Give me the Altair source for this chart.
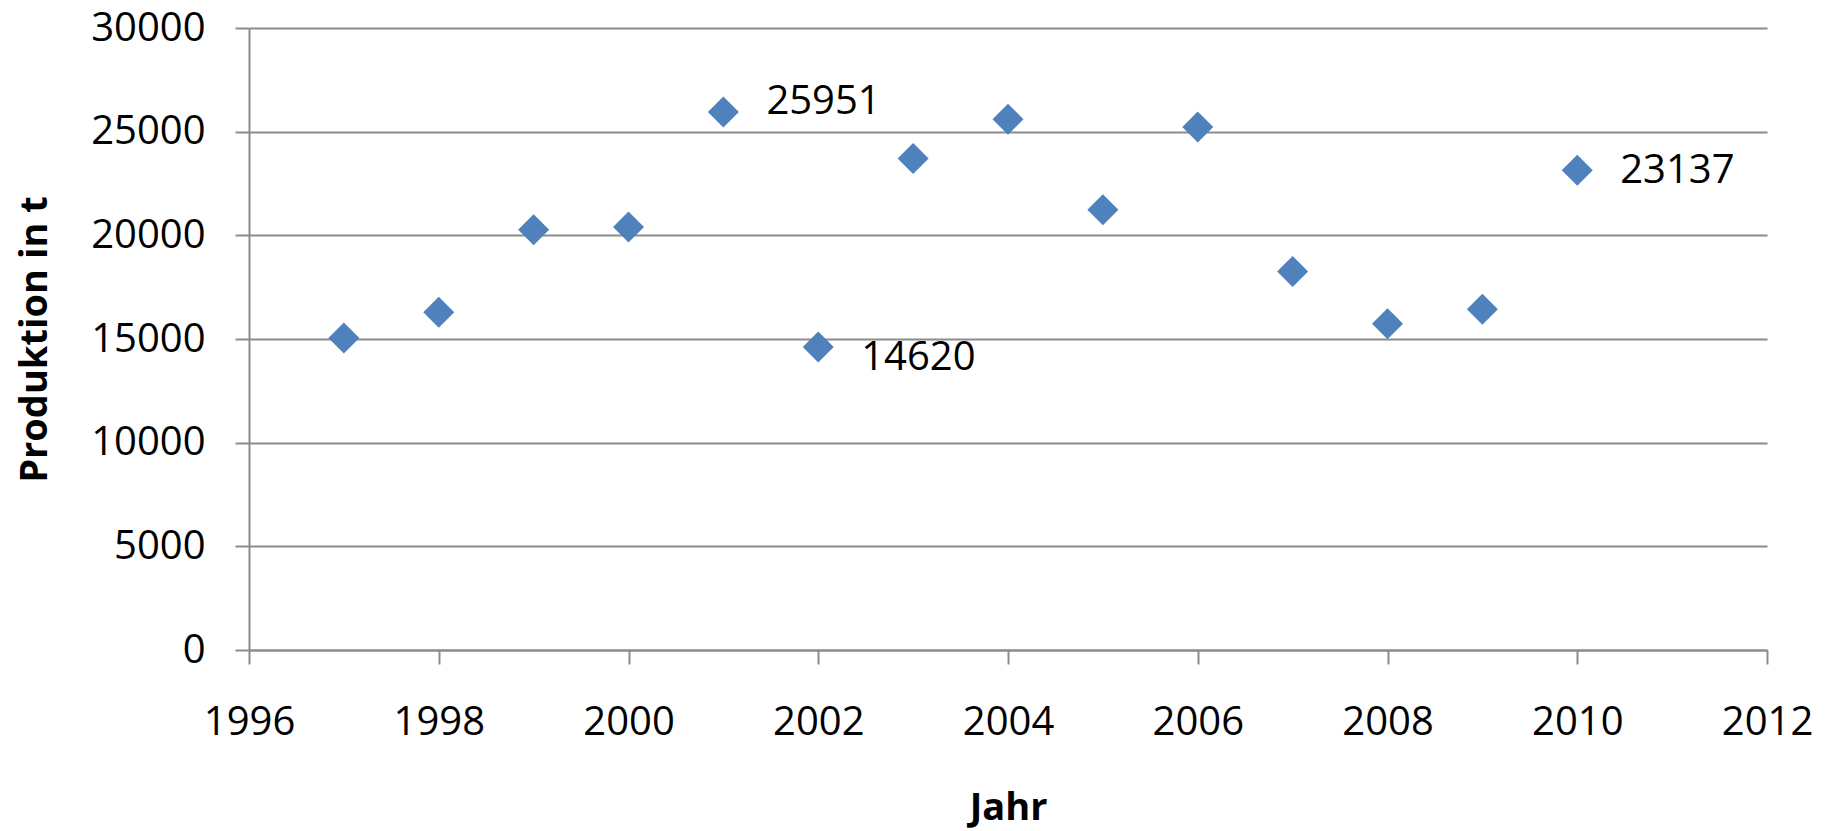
import altair as alt
import pandas as pd

years = [1997, 1998, 1999, 2000, 2001, 2002, 2003, 2004, 2005, 2006, 2007, 2008, 2009, 2010]
production = [15050, 16290, 20270, 20400, 25951, 14620, 23710, 25600, 21230, 25220, 18260, 15730, 16440, 23137]
x_ticks = [1996, 1998, 2000, 2002, 2004, 2006, 2008, 2010, 2012]
y_ticks = [0, 5000, 10000, 15000, 20000, 25000, 30000]
label_above = [2001]
label_below = [2002]
label_level = [2010]

df = pd.DataFrame({"Jahr": years, "Produktion": production})
df["label"] = df["Produktion"].astype(str)

FONT = "Open Sans"
GRID = "#8c8c8c"

x_enc = alt.X(
    "Jahr:Q",
    scale=alt.Scale(domain=[1996, 2012], nice=False, zero=False),
    axis=alt.Axis(
        title="Jahr",
        values=x_ticks,
        format="d",
        grid=False,
        domainColor=GRID,
        domainWidth=2,
        tickColor=GRID,
        tickWidth=2,
        tickSize=14,
        labelFont=FONT,
        labelFontSize=40,
        labelColor="#000000",
        labelPadding=38,
        labelFlush=False,
        titleFont=FONT,
        titleFontSize=38,
        titleFontWeight="bold",
        titleColor="#000000",
        titlePadding=47,
    ),
)
y_enc = alt.Y(
    "Produktion:Q",
    scale=alt.Scale(domain=[0, 30000], nice=False),
    axis=alt.Axis(
        title="Produktion in t",
        values=y_ticks,
        format="d",
        grid=True,
        gridColor=GRID,
        gridWidth=2,
        domainColor=GRID,
        domainWidth=2,
        tickColor=GRID,
        tickWidth=2,
        tickSize=14,
        labelFont=FONT,
        labelFontSize=40,
        labelColor="#000000",
        labelPadding=30,
        labelFlush=False,
        titleFont=FONT,
        titleFontSize=38,
        titleFontWeight="bold",
        titleColor="#000000",
        titlePadding=36,
    ),
)

base = alt.Chart(df)

points = base.mark_point(
    shape="diamond", filled=True, size=961, color="#4F81BD", opacity=1
).encode(x=x_enc, y=y_enc)

def labels(sel, dy):
    return (
        base.transform_filter(alt.FieldOneOfPredicate(field="Jahr", oneOf=sel))
        .mark_text(align="left", baseline="middle", dx=43, dy=dy, font=FONT, fontSize=40, color="#000000")
        .encode(x="Jahr:Q", y="Produktion:Q", text="label:N")
    )

chart = (
    alt.layer(points, labels(label_above, -10), labels(label_below, 11), labels(label_level, 1))
    .properties(
        width=1518,
        height=622,
        autosize=alt.AutoSizeParams(type="none"),
        padding={"left": 241, "top": 20, "right": 56, "bottom": 181},
        background="#ffffff",
    )
    .configure_view(stroke=None)
)

chart.save("out.html", embed_options={"renderer": "svg", "actions": False})
